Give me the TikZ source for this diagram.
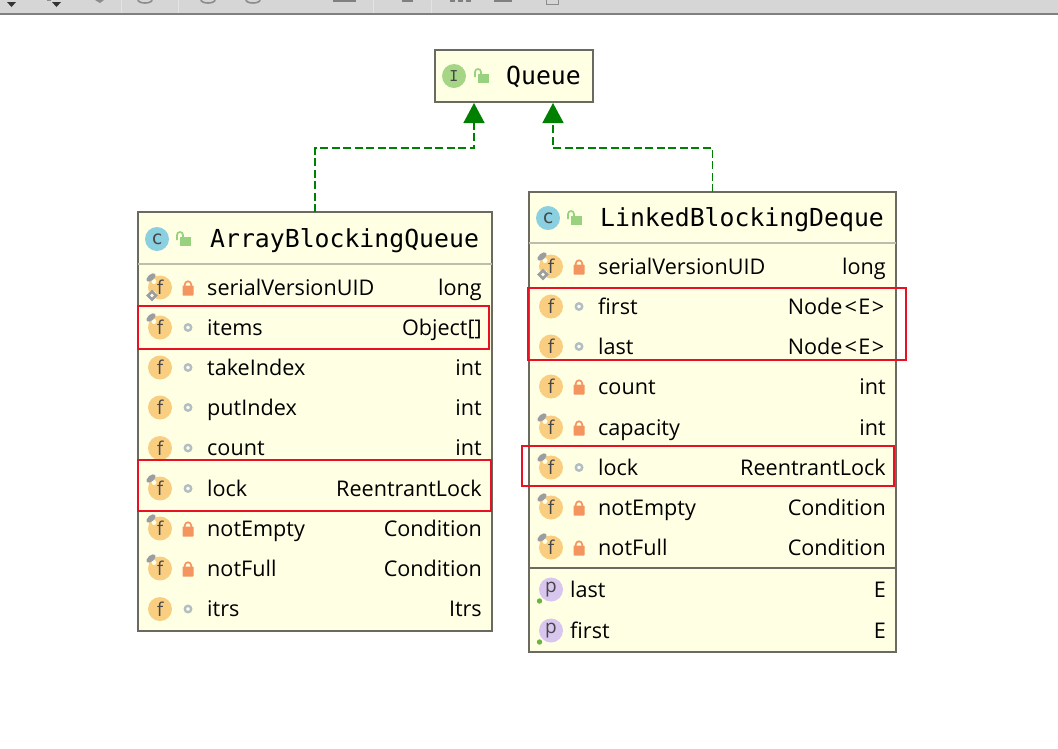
\documentclass[tikz,border=0pt]{standalone}
\usepackage{fontspec}
\setmainfont{Open Sans}
\setmonofont{DejaVu Sans Mono}
\usetikzlibrary{arrows.meta}

\definecolor{boxfill}{HTML}{FFFFE4}
\definecolor{boxline}{HTML}{6A6A60}
\definecolor{sepline}{HTML}{BDBDAE}
\definecolor{implgreen}{HTML}{008000}
\definecolor{fieldicon}{HTML}{F9CE81}
\definecolor{classicon}{HTML}{8AD0E0}
\definecolor{ifaceicon}{HTML}{A5D585}
\definecolor{propicon}{HTML}{D9C6EE}
\definecolor{lockred}{HTML}{F4945E}
\definecolor{lockgreen}{HTML}{98D27E}
\definecolor{ringgray}{HTML}{B3BEC4}
\definecolor{pingray}{HTML}{9A9EA2}
\definecolor{markred}{HTML}{E81123}
\definecolor{dotgreen}{HTML}{6CB33F}

\tikzset{
  umlbox/.style={draw=boxline,line width=1.7pt,fill=boxfill,inner sep=0pt,outer sep=0pt},
  impl/.style={implgreen,line width=1.6pt,dash pattern=on 8pt off 3.5pt,-{Triangle[length=20pt,width=21pt]}},
  title/.style={font=\fontsize{24.8}{26}\selectfont\ttfamily,anchor=base west,inner sep=0pt},
  fname/.style={font=\fontsize{21.6}{24}\selectfont,anchor=base west,inner sep=0pt},
  ftype/.style={font=\fontsize{21.6}{24}\selectfont,anchor=base east,inner sep=0pt},
  iconlet/.style={font=\fontsize{19}{20}\selectfont,text=black!72,inner sep=0pt},
  redmark/.style={draw=markred,line width=1.6pt},
}

% icon with letter
\newcommand{\roundicon}[4]{% x, y, colour, letter
  \fill[#3] (#1,#2) circle (12);
  \node[iconlet] at (#1,#2) {#4};
}
\newcommand{\pinmark}[2]{%
  \fill[boxfill] (#1-6,#2-6) circle (2.5);
  \fill[pingray,rotate around={40:(#1-9,#2-10)}] (#1-9,#2-10) ellipse (5.5 and 3);
}
\newcommand{\staticmark}[2]{%
  \fill[boxfill] (#1-8,#2+8) circle (5);
  \draw[pingray,line width=2.6pt] (#1-8,#2+4) -- (#1-4,#2+8) -- (#1-8,#2+12) -- (#1-12,#2+8) -- cycle;
}
\newcommand{\locksym}[3]{% x, y, colour
  \fill[#3,rounded corners=0.6pt] (#1-5.5,#2-2) rectangle (#1+5.5,#2+8);
  \draw[#3,line width=1.7pt] (#1-3.2,#2-1) -- (#1-3.2,#2-3) arc (180:360:3.2) -- (#1+3.2,#2-1);
}
\newcommand{\openlock}[2]{%
  \fill[lockgreen] (#1-3,#2-2.3) rectangle (#1+7.7,#2+7);
  \draw[lockgreen,line width=1.7pt] (#1-6,#2+1) -- (#1-6,#2-4) arc (180:360:3) -- (#1,#2-2);
}
% kind: p = pinned, s = pinned and static, n = plain
\newcommand{\fieldicon}[3]{%
  \roundicon{#1}{#2}{fieldicon}{f}
  \if#3p\pinmark{#1}{#2}\fi
  \if#3s\pinmark{#1}{#2}\staticmark{#1}{#2}\fi
}
\newcommand{\accessicon}[3]{%
  \if#3l\locksym{#1}{#2}{lockred}\fi
  \if#3o\draw[ringgray,line width=2.4pt] (#1,#2) circle (3.2);\fi
}
\newcommand{\nodetype}{Node\kern2pt<\kern1.5ptE\kern1.5pt>\kern1.5pt}

\begin{document}
\begin{tikzpicture}[x=1pt,y=-1pt]
  \useasboundingbox (0,0) rectangle (1058,748);
  % toolbar
  \fill[black!16] (0,0) rectangle (1058,12.5);
  \fill[black!50] (0,12.5) rectangle (1058,14.5);
  \foreach \x in {11.5,56.5}
    \fill[black!80] (\x-4.5,2) -- (\x+4.5,2) -- (\x,7) -- cycle;
  \foreach \x in {121,178,373,431}
    \fill[black!11] (\x,0) rectangle (\x+1,12.5);
  \fill[black!45] (47,0) rectangle (51,1);
  \fill[black!45] (95,0) -- (104,0) -- (100,3) -- cycle;
  \foreach \x in {145,208,253}
    \draw[black!45,line width=1.6pt] (\x-7,0) arc (180:0:7 and 3);
  \foreach \x/\w in {333/23,402/11,450/5,458/5,466/5,494/18}
    \fill[black!50] (\x,0) rectangle (\x+\w,2);
  \draw[black!45] (546,0) -- (546,4) -- (558,4) -- (558,0);

  % boxes
  \node[umlbox,minimum width=158pt,minimum height=52pt] (queue) at (514,76) {};
  \node[umlbox,minimum width=354pt,minimum height=419pt] (arrayq) at (315,421.5) {};
  \node[umlbox,minimum width=367pt,minimum height=460pt] (linkedq) at (712.5,422) {};
  \coordinate (qleft) at (474,103);
  \coordinate (qright) at (553,103);

  % connectors
  \draw[impl] (arrayq.north) -- ++(0,-64) -| (qleft);
  \draw[impl] (linkedq.north) -- ++(0,-44) -| (qright);

  % separators
  \draw[sepline,line width=1.2pt] (arrayq.west |- 0,264) -- (arrayq.east |- 0,264);
  \draw[sepline,line width=1.2pt] (linkedq.west |- 0,243) -- (linkedq.east |- 0,243);
  \draw[boxline,line width=1.4pt] (linkedq.west |- 0,568) -- (linkedq.east |- 0,568);

  % headers
  \roundicon{454}{76}{ifaceicon}{\fontsize{15}{16}\selectfont\ttfamily I}
  \openlock{481}{76}
  \node[title] (queuename) at (506,84) {Queue};
  \roundicon{157}{239}{classicon}{\ttfamily c}
  \openlock{183}{239}
  \node[title] (arrayname) at (210,247) {ArrayBlockingQueue};
  \roundicon{548}{218}{classicon}{\ttfamily c}
  \openlock{574}{218}
  \node[title] (linkedname) at (600,226) {LinkedBlockingDeque};

  % left fields
  \foreach \y/\k/\a/\nm/\tp in {287.5/s/l/serialVersionUID/long,327.5/p/o/items/Object[],
      367.5/n/o/takeIndex/int,407.5/n/o/putIndex/int,448/n/o/count/int,488.5/p/o/lock/ReentrantLock,
      528.5/p/l/notEmpty/Condition,568.5/p/l/notFull/Condition,609/n/o/itrs/Itrs}{
    \fieldicon{160}{\y}{\k}
    \accessicon{188}{\y}{\a}
    \node[fname] (a\nm) at (207,\y+7.5) {\nm};
    \node[ftype] (at\nm) at (482,\y+7.5) {\tp};
  }
  % right fields
  \foreach \y/\k/\a/\nm/\tp in {266.5/s/l/serialVersionUID/long,306.5/n/o/first/\nodetype,
      346.5/n/o/last/\nodetype,386.5/n/l/count/int,427.5/p/l/capacity/int,467.5/p/o/lock/ReentrantLock,
      507.5/p/l/notEmpty/Condition,547.5/p/l/notFull/Condition}{
    \fieldicon{551}{\y}{\k}
    \accessicon{579}{\y}{\a}
    \node[fname] (l\nm) at (598,\y+7.5) {\nm};
    \node[ftype] (lt\nm) at (886,\y+7.5) {\tp};
  }
  % properties
  \foreach \y/\nm in {589.5/last,630.5/first}{
    \roundicon{551}{\y}{propicon}{p}
    \fill[dotgreen] (539.5,\y+11.5) circle (2.7);
    \node[fname] (p\nm) at (570,\y+7.5) {\nm};
    \node[ftype] (pt\nm) at (886,\y+7.5) {E};
  }

  % red marks
  \draw[redmark] (138,306) rectangle (489,349);
  \draw[redmark] (138,460) rectangle (491,511);
  \draw[redmark] (528,288) rectangle (906,360);
  \draw[redmark] (522,446) rectangle (894,486);
\end{tikzpicture}
\end{document}
